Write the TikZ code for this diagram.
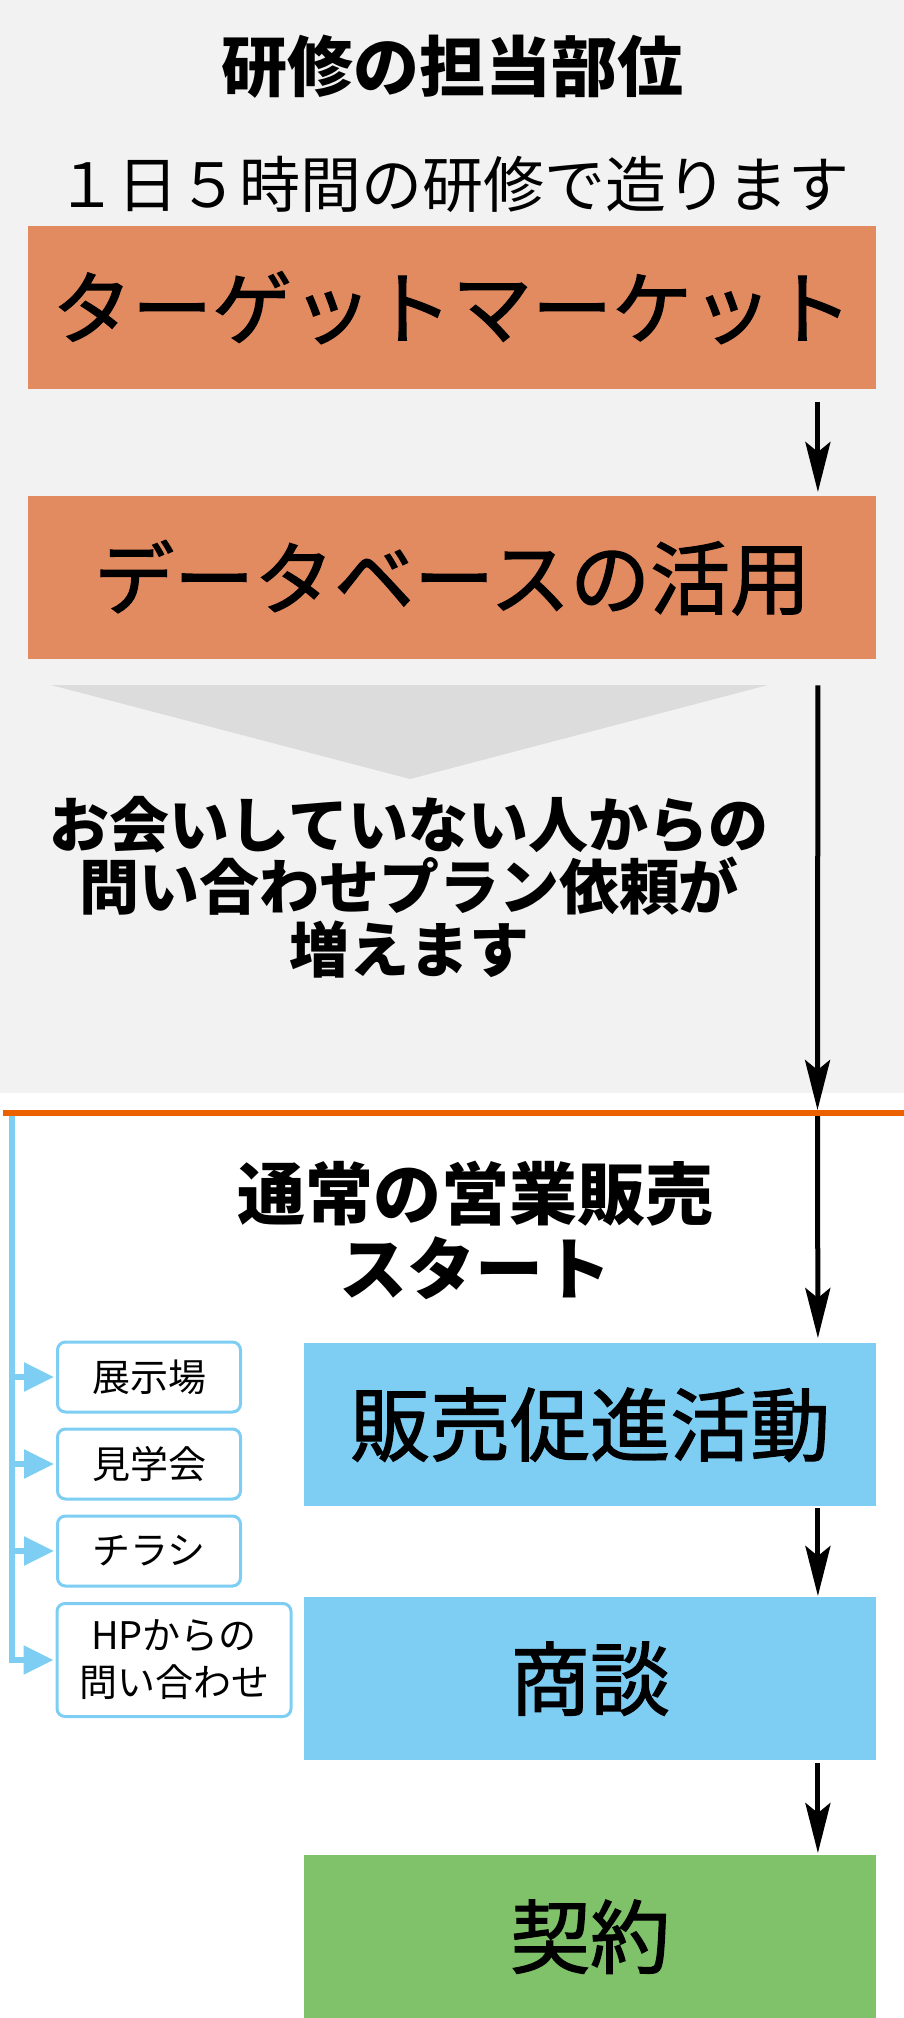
\documentclass[tikz,border=0pt]{standalone}
\usepackage{fontspec}
\newfontfamily\jp{Noto Sans CJK JP}
\newfontfamily\jpheavy[FakeBold=1.6]{Noto Sans CJK JP}
\usetikzlibrary{arrows.meta,positioning}
\definecolor{panel}{HTML}{F2F2F2}
\definecolor{wedge}{HTML}{DCDCDC}
\definecolor{brick}{HTML}{E28B61}
\definecolor{rule}{HTML}{EB6100}
\definecolor{sky}{HTML}{7ECEF4}
\definecolor{leaf}{HTML}{80C269}
\tikzset{stage/.style={minimum width=848pt, minimum height=163pt, inner sep=0pt, anchor=north west,
        font=\jpheavy\fontsize{80}{80}\selectfont},
    flow/.style={-{Stealth[length=50pt,width=25pt,inset=10pt]}, line width=5pt},
    tag/.style={draw=sky, line width=3pt, rounded corners=8pt, fill=white, minimum width=183pt,
        minimum height=70pt, inner sep=0pt, align=center, font=\jp\fontsize{38}{47}\selectfont},
    link/.style={draw=sky, line width=5.5pt, -{Triangle[length=30pt,width=28pt]}, shorten >=2pt},
    heading/.style={align=center, font=\jp\bfseries\fontsize{66}{75}\selectfont}}

\begin{document}
\begin{tikzpicture}[x=1pt, y=-1pt]
    \useasboundingbox (0,0) rectangle (904,2018);
    % upper part: training
    \fill[panel] (0,0) rectangle (904,1093);
    \fill[wedge] (51,685) -- (768,685) -- (410,779) -- cycle;
    \node[heading] (title) at (452,67) {研修の担当部位};
    \node[font=\jp\fontsize{61}{61}\selectfont] (sub) at (453,184) {１日５時間の研修で造ります};
    \node[stage, fill=brick] (tm) at (28,226) {ターゲットマーケット};
    \node[stage, fill=brick] (db) at (28,496) {データベースの活用};
    \node[heading, font=\jp\bfseries\fontsize{60}{62.5}\selectfont] (more) at (409,887)
        {お会いしていない人からの\\問い合わせプラン依頼が\\増えます};
    \draw[rule, line width=6pt] (3,1113) -- (904,1113);
    \coordinate (cut) at (817.5,1113);
    % lower part: normal sales
    \node[heading, font=\jp\bfseries\fontsize{68}{75}\selectfont] (start) at (475,1230) {通常の営業販売\\スタート};
    \node[stage, fill=sky, minimum width=572pt] (promo) at (304,1343) {販売促進活動};
    \node[stage, fill=sky, minimum width=572pt] (talk) at (304,1597) {商談};
    \node[stage, fill=leaf, minimum width=572pt] (deal) at (304,1855) {契約};
    \node[tag] (hall) at (149,1377) {展示場};
    \node[tag] (visit) at (149,1464) {見学会};
    \node[tag] (flyer) at (149,1551) {チラシ};
    \node[tag, minimum width=234pt, minimum height=113pt] (web) at (174,1660) {HPからの\\問い合わせ};
    \coordinate (rail) at (12,1116);
    \draw[link] (rail) |- (web.west);
    \foreach \t in {hall,visit,flyer}
        \draw[link] (rail |- \t.west) -- (\t.west);
    % main flow
    \draw[flow] ([shift={(-58.5,13)}]tm.south east) -- ([shift={(-58.5,-4)}]db.north east);
    \draw[flow] ([shift={(-58.5,26)}]db.south east) -- ([yshift=3pt]cut);
    \draw[flow] ([yshift=-3pt]cut) -- ([shift={(-58.5,-5)}]promo.north east);
    \draw[flow] ([shift={(-58.5,2)}]promo.south east) -- ([shift={(-58.5,-1)}]talk.north east);
    \draw[flow] ([shift={(-58.5,3)}]talk.south east) -- ([shift={(-58.5,-2)}]deal.north east);
\end{tikzpicture}
\end{document}
